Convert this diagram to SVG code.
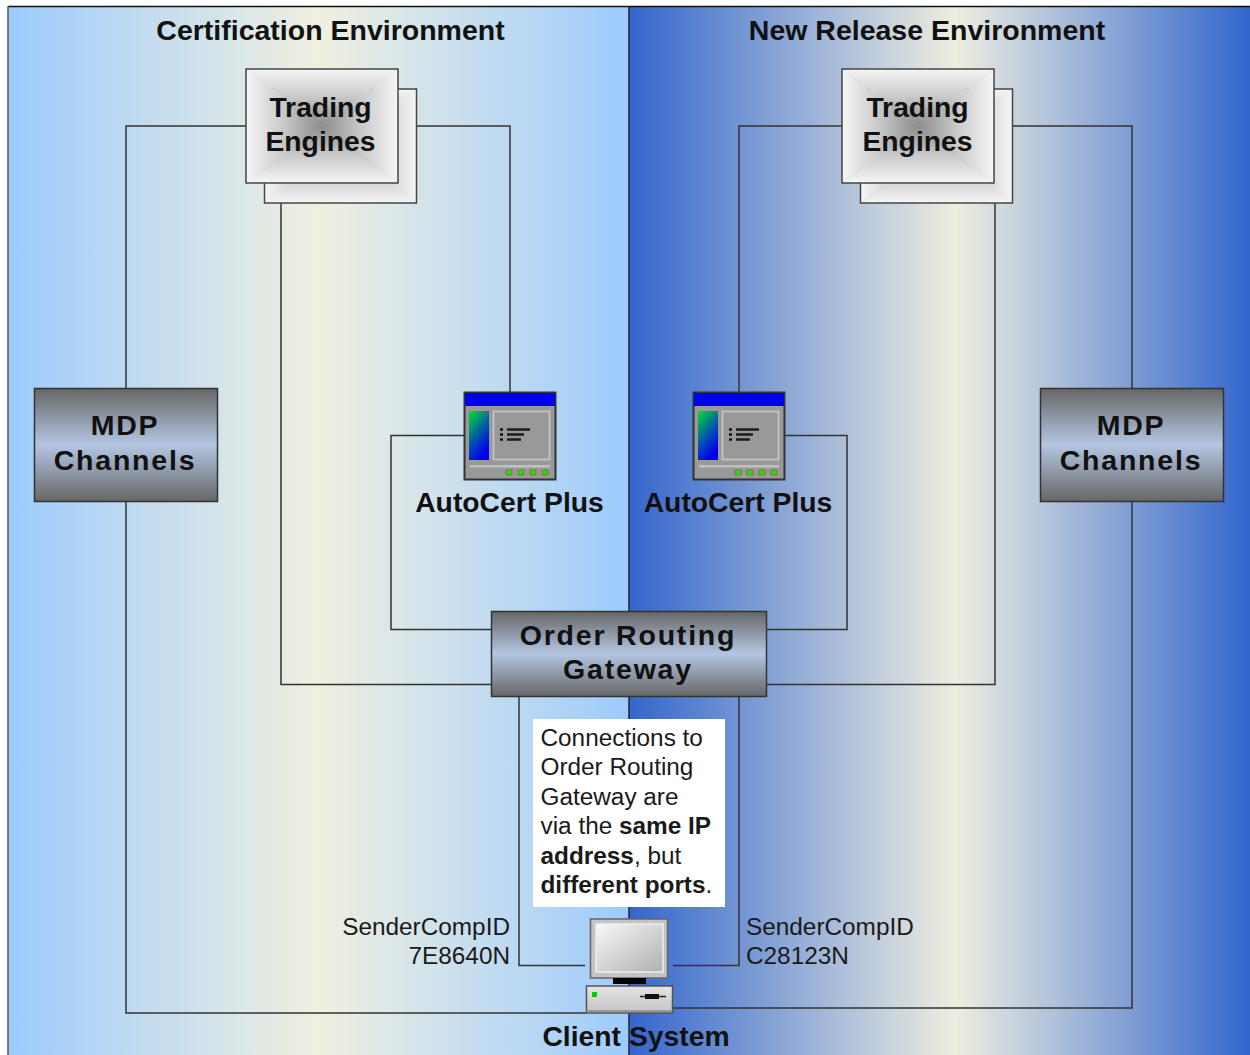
<svg xmlns="http://www.w3.org/2000/svg" width="1250" height="1055" viewBox="0 0 1250 1055">
<style>
text{font-family:"Liberation Sans",Arial,sans-serif;fill:#111}
.b{font-weight:700}
.t{font-size:28.500px;font-weight:700;text-anchor:middle}
.s{font-size:28.300px;font-weight:700;text-anchor:middle}
.m{font-size:28.500px;font-weight:700;text-anchor:middle;letter-spacing:1.800px}
.n{font-size:24.350px;fill:#1a1a1a}
.c{fill:none;stroke:#333;stroke-width:1.500}
.box{stroke:#333;stroke-width:1.500;fill:url(#metal)}
</style>
<defs>
<linearGradient id="lp"><stop offset="0" stop-color="#9dcbfd"/><stop offset=".5" stop-color="#f0f0e0"/><stop offset="1" stop-color="#9dcbfd"/></linearGradient>
<linearGradient id="rp"><stop offset="0" stop-color="#3366cc"/><stop offset=".525" stop-color="#eeeee0"/><stop offset="1" stop-color="#3366cc"/></linearGradient>
<linearGradient id="metal" x1="0" y1="0" x2="0" y2="1"><stop offset="0" stop-color="#666"/><stop offset=".5" stop-color="#b4c6e2"/><stop offset="1" stop-color="#666"/></linearGradient>
<linearGradient id="gt" x1="0" y1="0" x2="0" y2="1"><stop offset="0" stop-color="#f6f6f6"/><stop offset=".5" stop-color="#c8c8c8"/><stop offset="1" stop-color="#8c8c8c"/></linearGradient>
<linearGradient id="gb" x1="0" y1="1" x2="0" y2="0"><stop offset="0" stop-color="#f6f6f6"/><stop offset=".5" stop-color="#c8c8c8"/><stop offset="1" stop-color="#8c8c8c"/></linearGradient>
<linearGradient id="gl" x1="0" y1="0" x2="1" y2="0"><stop offset="0" stop-color="#f6f6f6"/><stop offset=".5" stop-color="#c8c8c8"/><stop offset="1" stop-color="#8c8c8c"/></linearGradient>
<linearGradient id="gr" x1="1" y1="0" x2="0" y2="0"><stop offset="0" stop-color="#f6f6f6"/><stop offset=".5" stop-color="#c8c8c8"/><stop offset="1" stop-color="#8c8c8c"/></linearGradient>
<linearGradient id="side" x1="0" y1="0" x2=".5" y2="1"><stop offset="0" stop-color="#00e030"/><stop offset=".6" stop-color="#0050b0"/><stop offset="1" stop-color="#0000ee"/></linearGradient>
<linearGradient id="scr" x1="0" y1="0" x2="1" y2="1"><stop offset="0" stop-color="#f8f8f8"/><stop offset="1" stop-color="#b0b0b0"/></linearGradient>
<linearGradient id="base" x1="0" y1="0" x2="0" y2="1"><stop offset="0" stop-color="#e4e4e4"/><stop offset="1" stop-color="#c4c4c4"/></linearGradient>
<g id="card">
<polygon points="0,0 152,0 76,57" fill="url(#gt)"/>
<polygon points="0,114 152,114 76,57" fill="url(#gb)"/>
<polygon points="0,0 0,114 76,57" fill="url(#gl)"/>
<polygon points="152,0 152,114 76,57" fill="url(#gr)"/>
<rect width="152" height="114" fill="none" stroke="#444" stroke-width="1.500"/>
</g>
<g id="app">
<rect x=".5" y=".5" width="91" height="87" fill="#999" stroke="#333" stroke-width="2"/>
<rect x="1" y="1" width="90" height="13" fill="#0000f0"/>
<rect x="5" y="19" width="20" height="49" fill="url(#side)"/>
<rect x="29.500" y="19.500" width="56" height="48" fill="#999" stroke="#c4c4c4" stroke-width="1.800"/>
<path d="M43 37.500h23M43 42.500h17M43 47.500h14" stroke="#1c1c1c" stroke-width="2.400"/>
<path d="M36 37.500h3M36 42.500h3M36 47.500h3" stroke="#111" stroke-width="2.400"/>
<rect x="6" y="73" width="80" height="2.500" fill="#c0c0c0"/>
<g fill="#00ee00" stroke="#b05a40" stroke-width=".8"><rect x="42" y="78" width="6" height="5"/><rect x="54" y="78" width="6" height="5"/><rect x="66" y="78" width="6" height="5"/><rect x="78" y="78" width="6" height="5"/></g>
</g>
</defs>

<g id="background">
<rect x="8" y="6" width="621" height="1049" fill="url(#lp)"/>
<rect x="629" y="6" width="621" height="1049" fill="url(#rp)"/>
<path d="M8 6.500H1250" stroke="#111" stroke-width="1.500"/>
<path d="M8 6V1055" stroke="#556" stroke-width="1.500"/>
<path d="M629 6V1055" stroke="#223" stroke-width="1.500"/>
<text class="t" x="330.500" y="40">Certification Environment</text>
<text class="t" x="927" y="40">New Release Environment</text>
</g>

<g id="connectors" class="c">
<path d="M246 126H126V388"/>
<path d="M126 502V1013H586"/>
<path d="M1012 126H1132V388"/>
<path d="M1132 502V1008H672"/>
<path d="M281 203V684.500H491"/>
<path d="M995 203V684.500H767"/>
<path d="M416 126H510V392"/>
<path d="M842 126H739V392"/>
<path d="M464 435.500H391V629.500H491"/>
<path d="M785 435.500H847V629.500H767"/>
<path d="M519 696V965.500H585"/>
<path d="M739 696V965.500H673"/>
</g>

<g id="trading-left">
<use href="#card" x="264.500" y="89"/>
<use href="#card" x="246" y="69"/>
<text class="s" x="320.500" y="116.500">Trading</text>
<text class="s" x="320.500" y="151">Engines</text>
</g>
<g id="trading-right">
<use href="#card" x="860.500" y="89"/>
<use href="#card" x="842" y="69"/>
<text class="s" x="917.500" y="116.500">Trading</text>
<text class="s" x="917.500" y="151">Engines</text>
</g>
<g id="mdp-left">
<rect class="box" x="34.500" y="388.500" width="183" height="113"/>
<text class="m" x="125" y="435">MDP</text>
<text class="m" x="125" y="470">Channels</text>
</g>
<g id="mdp-right">
<rect class="box" x="1040.500" y="388.500" width="183" height="113"/>
<text class="m" x="1131" y="435">MDP</text>
<text class="m" x="1131" y="470">Channels</text>
</g>
<g id="autocert-left">
<use href="#app" x="464" y="392"/>
<text class="s" x="509.500" y="511.500">AutoCert Plus</text>
</g>
<g id="autocert-right">
<use href="#app" x="693" y="392"/>
<text class="s" x="738" y="511.500">AutoCert Plus</text>
</g>
<g id="gateway">
<rect class="box" x="491.500" y="611.500" width="275" height="85"/>
<text class="m" x="628" y="644.500">Order Routing</text>
<text class="m" x="628" y="679">Gateway</text>
</g>
<g id="note">
<rect x="533" y="719" width="192" height="188" fill="#fff"/>
<text class="n" x="540.500" y="746">Connections to</text>
<text class="n" x="540.500" y="775">Order Routing</text>
<text class="n" x="540.500" y="805">Gateway are</text>
<text class="n" x="540.500" y="834">via the <tspan class="b">same IP</tspan></text>
<text class="n" x="540.500" y="864"><tspan class="b">address</tspan>, but</text>
<text class="n" x="540.500" y="893"><tspan class="b">different ports</tspan>.</text>
</g>
<g id="label-left"><text class="n" text-anchor="end" x="510" y="935">SenderCompID</text><text class="n" text-anchor="end" x="510" y="964">7E8640N</text></g>
<g id="label-right"><text class="n" x="746" y="935">SenderCompID</text><text class="n" x="746" y="964">C28123N</text></g>
<g id="client">
<rect x="590.500" y="919" width="77" height="59" fill="#c4c4c4" stroke="#666" stroke-width="1.500"/>
<rect x="596" y="924" width="67" height="48" fill="url(#scr)" stroke="#eee" stroke-width="1.500"/>
<rect x="613" y="978" width="33" height="6" fill="#000"/>
<rect x="586.500" y="986" width="86" height="27" fill="url(#base)" stroke="#555" stroke-width="1.500"/>
<path d="M588 1011h84" stroke="#8a8a8a" stroke-width="1.500"/>
<rect x="592" y="992" width="5" height="5" fill="#0c0"/>
<path d="M640 996.500h26" stroke="#222" stroke-width="1.500"/>
<rect x="645" y="994" width="14" height="5" fill="#111"/>
<text class="s" x="636" y="1045.500">Client System</text>
</g>
</svg>
